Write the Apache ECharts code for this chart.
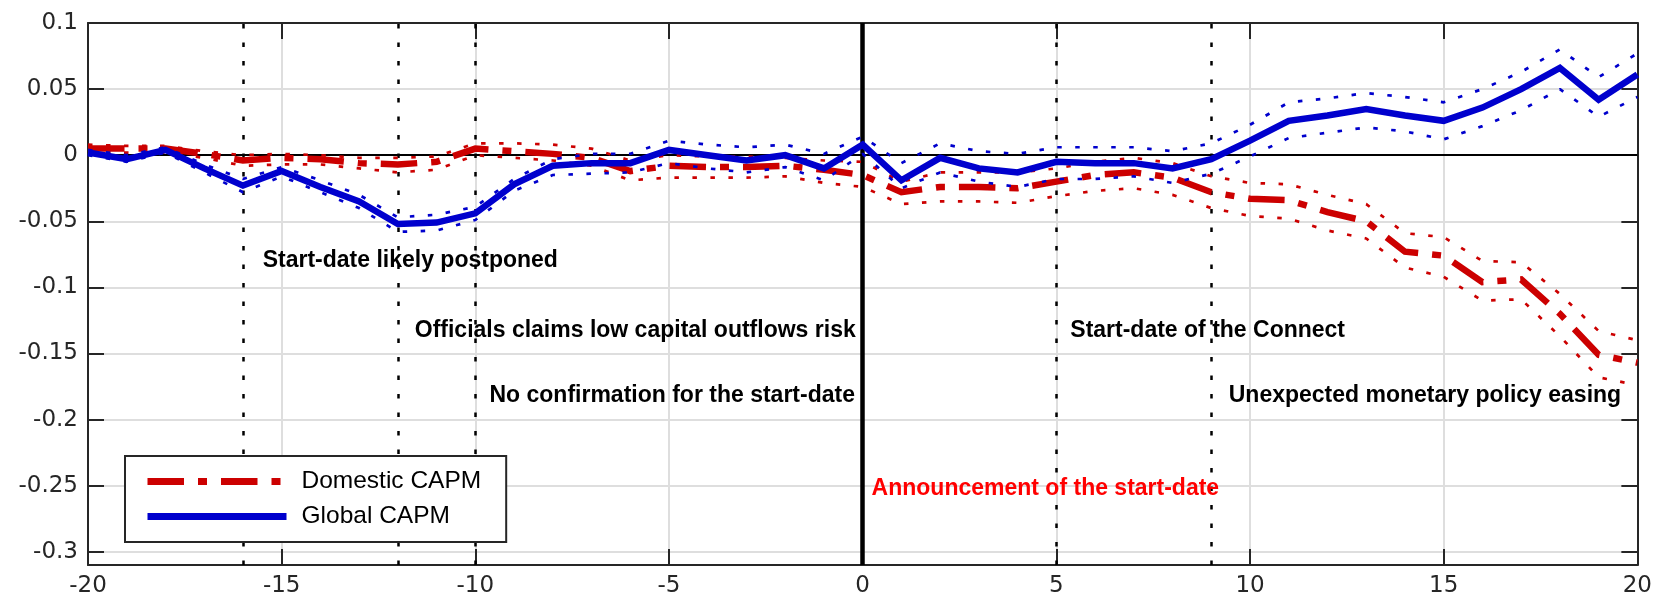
<!DOCTYPE html>
<html>
<head>
<meta charset="utf-8">
<title>Cumulative abnormal returns around the Connect announcement</title>
<script src="https://cdn.jsdelivr.net/npm/echarts@6/dist/echarts.min.js"></script>
<style>
  html, body { margin: 0; padding: 0; background: #ffffff; }
  #chart { width: 1655px; height: 600px; }
</style>
</head>
<body>
<div id="chart"></div>
<script>
// Event window in trading days relative to the announcement (day 0)
const days = [-20, -19, -18, -17, -16, -15, -14, -13, -12, -11,
              -10, -9, -8, -7, -6, -5, -4, -3, -2, -1,
              0, 1, 2, 3, 4, 5, 6, 7, 8, 9,
              10, 11, 12, 13, 14, 15, 16, 17, 18, 19, 20];

// Cumulative abnormal returns, domestic CAPM, with confidence band
const domestic = [0.005, 0.005, 0.005, 0.001, -0.004, -0.002, -0.003, -0.006, -0.007, -0.005,
                  0.005, 0.003, 0.001, -0.002, -0.012, -0.008, -0.009, -0.009, -0.008, -0.011,
                  -0.015, -0.028, -0.024, -0.024, -0.025, -0.020, -0.015, -0.013, -0.017, -0.028,
                  -0.033, -0.034, -0.043, -0.050, -0.073, -0.076, -0.096, -0.094, -0.120, -0.151, -0.157];
const domesticUpper = [0.008, 0.007, 0.007, 0.003, 0.000, 0.001, 0.000, -0.002, -0.002, -0.001,
                       0.009, 0.009, 0.008, 0.005, -0.004, 0.000, -0.001, -0.001, -0.002, -0.004,
                       -0.005, -0.020, -0.013, -0.013, -0.013, -0.010, -0.005, -0.002, -0.006, -0.016,
                       -0.021, -0.022, -0.030, -0.037, -0.059, -0.062, -0.080, -0.081, -0.105, -0.133, -0.140];
const domesticLower = [0.002, 0.002, 0.002, -0.002, -0.008, -0.007, -0.007, -0.010, -0.013, -0.011,
                       0.000, -0.002, -0.004, -0.008, -0.019, -0.017, -0.017, -0.017, -0.016, -0.021,
                       -0.024, -0.037, -0.035, -0.035, -0.036, -0.031, -0.027, -0.025, -0.030, -0.040,
                       -0.046, -0.048, -0.057, -0.063, -0.085, -0.092, -0.110, -0.109, -0.137, -0.168, -0.174];

// Cumulative abnormal returns, global CAPM, with confidence band
const globalCapm = [0.002, -0.003, 0.004, -0.010, -0.023, -0.012, -0.024, -0.035, -0.052, -0.051,
                    -0.044, -0.022, -0.008, -0.006, -0.006, 0.004, 0.000, -0.004, 0.000, -0.010,
                    0.008, -0.019, -0.002, -0.010, -0.013, -0.005, -0.006, -0.006, -0.010, -0.003,
                    0.011, 0.026, 0.030, 0.035, 0.030, 0.026, 0.036, 0.050, 0.066, 0.042, 0.061];
const globalUpper = [0.004, 0.000, 0.006, -0.007, -0.018, -0.009, -0.019, -0.030, -0.047, -0.045,
                     -0.039, -0.018, -0.003, 0.001, 0.001, 0.011, 0.008, 0.006, 0.008, 0.001,
                     0.014, -0.006, 0.009, 0.003, 0.001, 0.006, 0.006, 0.006, 0.003, 0.009,
                     0.023, 0.040, 0.043, 0.047, 0.044, 0.040, 0.050, 0.063, 0.080, 0.059, 0.077];
const globalLower = [0.000, -0.005, 0.002, -0.013, -0.028, -0.016, -0.028, -0.040, -0.058, -0.057,
                     -0.049, -0.027, -0.015, -0.014, -0.013, -0.006, -0.010, -0.013, -0.009, -0.019,
                     0.001, -0.025, -0.013, -0.020, -0.024, -0.018, -0.018, -0.016, -0.021, -0.014,
                     -0.001, 0.013, 0.017, 0.021, 0.018, 0.012, 0.022, 0.034, 0.050, 0.029, 0.044];

// News events (dotted verticals) and the announcement itself (solid vertical)
const eventDays = [-16, -12, -10, 5, 9];
const announcementDay = 0;

// Axis ticks
const yTicks = [-0.3, -0.25, -0.2, -0.15, -0.1, -0.05, 0, 0.05, 0.1];

const seriesNames = ['Domestic CAPM', 'Global CAPM'];

// Event captions
const captions = [
  'Start-date likely postponed',
  'Officials claims low capital outflows risk',
  'No confirmation for the start-date',
  'Announcement of the start-date',
  'Start-date of the Connect',
  'Unexpected monetary policy easing'
];
// Caption anchors in data units: [day, value, side of the anchor the text sits on, colour]
const captionAnchors = [
  [-15.49, -0.080, 'right', '#000000'],
  [-0.18, -0.133, 'left', '#000000'],
  [-0.2, -0.182, 'left', '#000000'],
  [0.23, -0.252, 'right', '#ff0000'],
  [5.36, -0.133, 'right', '#000000'],
  [9.45, -0.182, 'right', '#000000']
];

const RED = '#cc0000';
const BLUE = '#0000cd';
const AXIS = '#262626';
const GRID = '#dedede';

const pairs = (ys) => days.map((d, i) => [d, ys[i]]);

const tickFont = { fontFamily: 'DejaVu Sans', fontSize: 23, color: AXIS };
const dotted = [4.5, 13.5];

const baseX = {
  type: 'value', min: -20, max: 20, interval: 5,
  axisLine: { show: true, onZero: false, lineStyle: { color: AXIS, width: 2 } },
  axisTick: { show: true, inside: true, length: 16, lineStyle: { color: AXIS, width: 2 } }
};
const baseY = {
  type: 'value', min: -0.31, max: 0.1,
  axisLine: { show: true, onZero: false, lineStyle: { color: AXIS, width: 2 } },
  axisTick: { show: true, inside: true, length: 16, customValues: yTicks,
              lineStyle: { color: AXIS, width: 2 } }
};

const chart = echarts.init(document.getElementById('chart'), null, { renderer: 'canvas' });

chart.setOption({
  animation: false,
  backgroundColor: '#ffffff',
  grid: { left: 88, top: 23, right: 16, bottom: 35, containLabel: false },
  xAxis: [
    Object.assign({}, baseX, {
      position: 'bottom',
      axisLabel: Object.assign({ show: true, margin: 10 }, tickFont),
      splitLine: { show: true, lineStyle: { color: GRID, width: 2 } }
    }),
    Object.assign({}, baseX, {
      position: 'top',
      axisLabel: { show: false },
      splitLine: { show: false }
    })
  ],
  yAxis: [
    Object.assign({}, baseY, {
      position: 'left',
      axisLabel: Object.assign({ show: true, margin: 10, customValues: yTicks }, tickFont),
      splitLine: { show: true, lineStyle: { color: GRID, width: 2 } }
    }),
    Object.assign({}, baseY, {
      position: 'right',
      axisLabel: { show: false },
      splitLine: { show: false }
    })
  ],
  legend: {
    data: seriesNames,
    orient: 'vertical',
    left: 125,
    top: 456,
    z: 20,
    padding: [13, 25, 13, 19],
    itemGap: 10,
    itemWidth: 139,
    itemHeight: 24,
    selectedMode: false,
    backgroundColor: '#ffffff',
    borderColor: AXIS,
    borderWidth: 2,
    lineStyle: { width: 7 },
    // line-only keys: hide the marker that line series add to their key
    itemStyle: { opacity: 0, color: 'rgba(0,0,0,0)', borderWidth: 0 },
    textStyle: {
      fontFamily: 'Liberation Sans', fontSize: 24.5, color: '#000000',
      lineHeight: 24, padding: [0, 0, 0, 10]
    }
  },
  series: [
    {
      // Reference lines: zero level, news days and the announcement day
      name: 'reference',
      type: 'line',
      data: [],
      z: 1,
      silent: true,
      markLine: {
        z: 1,
        silent: true,
        symbol: ['none', 'none'],
        label: { show: false },
        animation: false,
        data: [
          { yAxis: 0, lineStyle: { color: '#000000', width: 2, type: 'solid' } },
          ...eventDays.map(d => ({ xAxis: d, lineStyle: { color: '#000000', width: 2.5, type: [4.5, 14] } })),
          { xAxis: announcementDay, lineStyle: { color: '#000000', width: 4.5, type: 'solid' } }
        ]
      }
    },
    {
      name: 'Domestic CAPM upper', type: 'line', data: pairs(domesticUpper), z: 2,
      symbol: 'none', silent: true,
      lineStyle: { color: RED, width: 2.7, type: dotted, cap: 'butt' }
    },
    {
      name: 'Domestic CAPM lower', type: 'line', data: pairs(domesticLower), z: 2,
      symbol: 'none', silent: true,
      lineStyle: { color: RED, width: 2.7, type: dotted, cap: 'butt' }
    },
    {
      name: seriesNames[0], type: 'line', data: pairs(domestic), z: 3,
      symbol: 'none', silent: true, color: RED,
      lineStyle: { color: RED, width: 6.5, type: [36.5, 14, 9, 14], cap: 'butt', join: 'miter' }
    },
    {
      name: 'Global CAPM upper', type: 'line', data: pairs(globalUpper), z: 4,
      symbol: 'none', silent: true,
      lineStyle: { color: BLUE, width: 2.7, type: dotted, cap: 'butt' }
    },
    {
      name: 'Global CAPM lower', type: 'line', data: pairs(globalLower), z: 4,
      symbol: 'none', silent: true,
      lineStyle: { color: BLUE, width: 2.7, type: dotted, cap: 'butt' }
    },
    {
      name: seriesNames[1], type: 'line', data: pairs(globalCapm), z: 5,
      symbol: 'none', silent: true, color: BLUE,
      lineStyle: { color: BLUE, width: 6.5, type: 'solid', cap: 'butt', join: 'miter' }
    },
    {
      // Event captions
      name: 'captions', type: 'scatter', z: 6, silent: true,
      symbolSize: 0,
      itemStyle: { opacity: 1 },
      data: captions.map((text, i) => {
        const a = captionAnchors[i];
        return {
          value: [a[0], a[1]],
          label: {
            show: true,
            formatter: text,
            position: a[2],
            distance: 0,
            opacity: 1,
            fontFamily: 'Liberation Sans',
            fontWeight: 'bold',
            fontSize: 23,
            color: a[3]
          }
        };
      })
    }
  ]
});
</script>
</body>
</html>
